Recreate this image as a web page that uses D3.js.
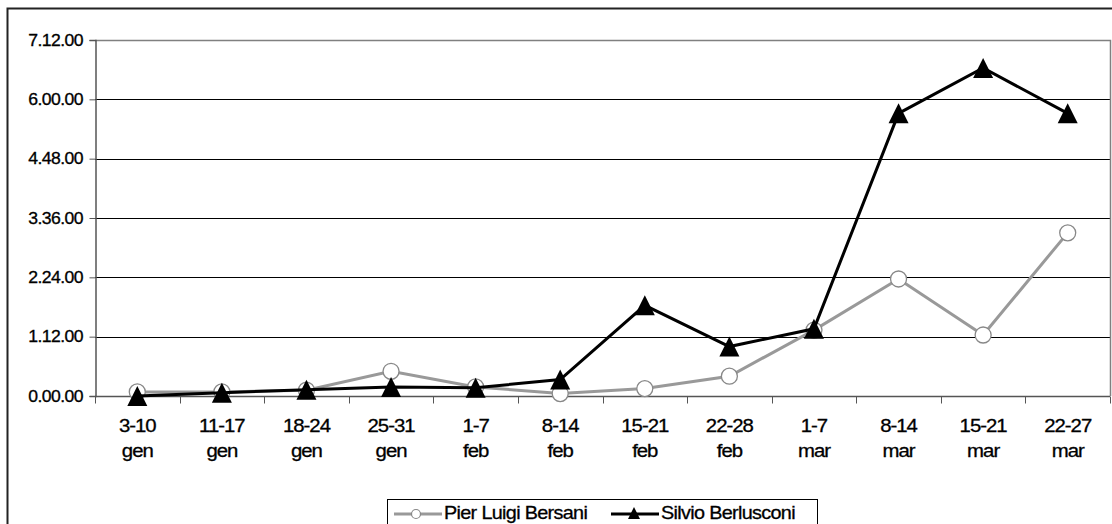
<!DOCTYPE html>
<html>
<head>
<meta charset="utf-8">
<script src="https://cdnjs.cloudflare.com/ajax/libs/d3/7.8.5/d3.min.js"></script>
<style>
  body { margin: 0; background: #fff; }
  svg { display: block; font-family: "Liberation Sans", Arial, sans-serif; }
  svg text { stroke: #000; stroke-width: 0.3; }
</style>
</head>
<body>
<div id="chart"></div>
<script>
// settimane (due righe per etichetta)
var weeks = ["3-10", "11-17", "18-24", "25-31", "1-7", "8-14", "15-21", "22-28", "1-7", "8-14", "15-21", "22-27"];
var months = ["gen", "gen", "gen", "gen", "feb", "feb", "feb", "feb", "mar", "mar", "mar", "mar"];
// tempo in minuti
var bersani = [5, 5, 7, 30, 11, 3, 9, 24, 80, 142, 74, 198];
var berlusconi = [0, 4, 7.5, 11, 10, 20, 110, 60, 81.5, 343, 398, 343];
var yTicks = [0, 72, 144, 216, 288, 360, 432];
var seriesNames = ["Pier Luigi Bersani", "Silvio Berlusconi"];

var width = 1112, height = 524;
var margin = {top: 40, right: 2, bottom: 128, left: 95};
var SX = 1.1; // testo un po' allargato come nell'originale

var svg = d3.select("#chart").append("svg")
    .attr("width", width)
    .attr("height", height);

// cornice esterna
svg.append("rect")
    .attr("x", 7.5).attr("y", 8.5)
    .attr("width", width + 10).attr("height", height + 10)
    .attr("fill", "none")
    .attr("stroke", "#222")
    .attr("stroke-width", 2);

var x = d3.scaleBand()
    .domain(d3.range(weeks.length))
    .range([margin.left, width - margin.right]);

var y = d3.scaleLinear()
    .domain([0, 432])
    .range([height - margin.bottom, margin.top]);

function fmt(m) {
    var h = Math.floor(m / 60), mm = Math.round(m % 60);
    return h + "." + (mm < 10 ? "0" : "") + mm + ".00";
}

// griglia
svg.append("g")
    .selectAll("line")
    .data(yTicks.slice(1, -1))
    .enter().append("line")
    .attr("x1", margin.left).attr("x2", width - margin.right)
    .attr("y1", function (d) { return Math.round(y(d)) + 0.5; })
    .attr("y2", function (d) { return Math.round(y(d)) + 0.5; })
    .attr("stroke", "#000")
    .attr("stroke-width", 1);

// bordo area grafico (sopra e destra)
svg.append("path")
    .attr("d", "M" + margin.left + "," + (margin.top + 0.5) + "H" + (width - margin.right + 0.5) + "V" + y(0))
    .attr("fill", "none")
    .attr("stroke", "#808080")
    .attr("stroke-width", 1.5);

// asse y
var yAxis = svg.append("g")
    .attr("transform", "translate(" + (margin.left + 0.5) + ",0)")
    .call(d3.axisLeft(y).tickValues(yTicks).tickFormat("").tickSize(6));
yAxis.select(".domain").attr("stroke", "#555").attr("stroke-width", 1.5);
yAxis.selectAll(".tick line").attr("stroke", "#555");

svg.append("g").selectAll("text")
    .data(yTicks)
    .enter().append("text")
    .attr("transform", function (d) { return "translate(83," + y(d) + ") scale(" + SX + ",1)"; })
    .attr("dy", "0.36em")
    .attr("text-anchor", "end")
    .attr("font-size", 16)
    .attr("letter-spacing", -0.5)
    .text(fmt);

// asse x
var xAxis = svg.append("g")
    .attr("transform", "translate(0," + (Math.round(y(0)) + 0.5) + ")");
xAxis.append("line")
    .attr("x1", margin.left).attr("x2", width - margin.right)
    .attr("stroke", "#555").attr("stroke-width", 1.5);
xAxis.selectAll(".tk")
    .data(d3.range(weeks.length + 1))
    .enter().append("line")
    .attr("class", "tk")
    .attr("x1", function (i) { return Math.round(margin.left + i * x.step()) + 0.5; })
    .attr("x2", function (i) { return Math.round(margin.left + i * x.step()) + 0.5; })
    .attr("y1", 0).attr("y2", 7)
    .attr("stroke", "#555");

var lab = xAxis.selectAll(".lab")
    .data(weeks)
    .enter().append("text")
    .attr("class", "lab")
    .attr("transform", function (d, i) {
        return "translate(" + (x(i) + x.bandwidth() / 2) + ",0) scale(" + SX + ",1)";
    })
    .attr("text-anchor", "middle")
    .attr("font-size", 18.5)
    .attr("letter-spacing", -0.9);
lab.append("tspan")
    .attr("x", 0)
    .attr("y", 36)
    .text(function (d) { return d; });
lab.append("tspan")
    .attr("x", 0)
    .attr("y", 61)
    .text(function (d, i) { return months[i]; });

var line = d3.line()
    .x(function (d, i) { return x(i) + x.bandwidth() / 2; })
    .y(function (d) { return y(d); });

var triangle = "M0,-10L10,10L-10,10Z";

// Bersani
svg.append("path")
    .datum(bersani)
    .attr("d", line)
    .attr("fill", "none")
    .attr("stroke", "#999")
    .attr("stroke-width", 3);
svg.append("g").selectAll("circle")
    .data(bersani)
    .enter().append("circle")
    .attr("cx", function (d, i) { return x(i) + x.bandwidth() / 2; })
    .attr("cy", function (d) { return y(d); })
    .attr("r", 8)
    .attr("fill", "#fff")
    .attr("stroke", "#888")
    .attr("stroke-width", 1.3);

// Berlusconi
svg.append("path")
    .datum(berlusconi)
    .attr("d", line)
    .attr("fill", "none")
    .attr("stroke", "#000")
    .attr("stroke-width", 3);
svg.append("g").selectAll("path")
    .data(berlusconi)
    .enter().append("path")
    .attr("d", triangle)
    .attr("transform", function (d, i) {
        return "translate(" + (x(i) + x.bandwidth() / 2) + "," + y(d) + ")";
    })
    .attr("fill", "#000");

// legenda
var lg = svg.append("g").attr("transform", "translate(387,499)");
lg.append("rect")
    .attr("x", 0.5).attr("y", 0.5)
    .attr("width", 430).attr("height", 40)
    .attr("fill", "#fff")
    .attr("stroke", "#000");
lg.append("line").attr("x1", 7).attr("x2", 55).attr("y1", 15).attr("y2", 15)
    .attr("stroke", "#999").attr("stroke-width", 3);
lg.append("circle").attr("cx", 29).attr("cy", 15).attr("r", 4.5)
    .attr("fill", "#fff").attr("stroke", "#888").attr("stroke-width", 1.2);
lg.append("text")
    .attr("transform", "translate(57,20) scale(" + SX + ",1)")
    .attr("font-size", 18).attr("letter-spacing", -0.6)
    .text(seriesNames[0]);
lg.append("line").attr("x1", 224).attr("x2", 272).attr("y1", 15).attr("y2", 15)
    .attr("stroke", "#000").attr("stroke-width", 3);
lg.append("path").attr("d", "M0,-6L6,6L-6,6Z")
    .attr("transform", "translate(247,14)")
    .attr("fill", "#000");
lg.append("text")
    .attr("transform", "translate(274,20) scale(" + SX + ",1)")
    .attr("font-size", 18).attr("letter-spacing", -0.6)
    .text(seriesNames[1]);
</script>
</body>
</html>
